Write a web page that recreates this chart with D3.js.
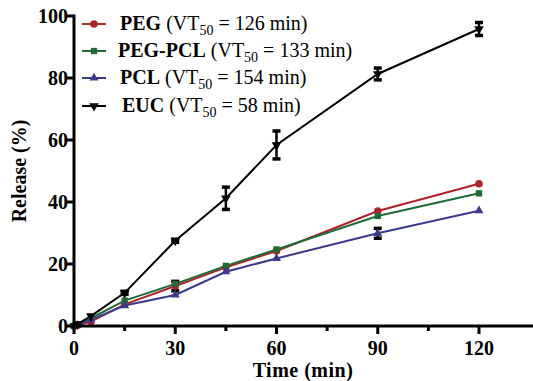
<!DOCTYPE html>
<html><head><meta charset="utf-8">
<script src="https://cdn.jsdelivr.net/npm/d3@7"></script>
<style>body{margin:0;background:#fff}svg{display:block}text{font-family:"Liberation Serif","Times New Roman",serif}</style>
</head><body><svg id="c" width="533" height="381"></svg>
<script>
const times = [0, 1, 5, 15, 30, 45, 60, 90, 120];
const peg    = [0, 0.2, 1.4, 7.0, 12.9, 18.9, 24.2, 37.1, 45.9];
const pegpcl = [0, 0.5, 2.5, 8.2, 13.6, 19.4, 24.7, 35.5, 42.8];
const pcl    = [0, 0.3, 2.0, 6.6, 10.0, 17.5, 21.8, 29.9, 37.2];
const euc    = [0, 0.6, 3.2, 10.7, 27.5, 41.2, 58.4, 81.3, 95.8];
const pegErr    = [0, 0, 0, 0, 1.5, 0, 0, 0, 0];
const pegpclErr = [0, 0, 0, 0, 0, 0, 0, 0, 0];
const pclErr    = [0, 0, 0, 0, 0, 0, 0, 1.6, 0];
const eucErr    = [0, 0, 0, 0.5, 0.5, 3.6, 4.5, 1.9, 2.1];
const seriesNames = ["PEG", "PEG-PCL", "PCL", "EUC"];
const vt50 = ["126", "133", "154", "58"];
const xTicks = [0, 30, 60, 90, 120];
const xMinor = [15, 45, 75, 105];
const yTicks = [0, 20, 40, 60, 80, 100];

const colors = ["#b0222a", "#1f6b35", "#3b3a8c", "#000000"];
const shapes = [d3.symbolCircle, d3.symbolSquare, d3.symbolTriangle, d3.symbolTriangle];
const rot = [0, 0, 0, 180];
const sizes = [45, 40, 35, 40];

const svg = d3.select("#c");
const x = d3.scaleLinear().domain([0, 120]).range([74, 479]);
const y = d3.scaleLinear().domain([0, 100]).range([326, 16]);

const data = [peg, pegpcl, pcl, euc];
const errs = [pegErr, pegpclErr, pclErr, eucErr];

const line = d3.line().x((d,i)=>x(times[i])).y(d=>y(d));
data.forEach((s, k) => {
  svg.append("path").datum(s).attr("d", line).attr("fill", "none")
    .attr("stroke", colors[k]).attr("stroke-width", 2);
});
errs.forEach((e, k) => {
  e.forEach((v, i) => {
    if (!v) return;
    const cx = x(times[i]), y1 = y(data[k][i] + v), y2 = y(data[k][i] - v);
    const g = svg.append("g").attr("stroke", "#000");
    g.append("line").attr("x1", cx).attr("x2", cx).attr("y1", y1).attr("y2", y2).attr("stroke-width", 2.5);
    g.append("line").attr("x1", cx-4).attr("x2", cx+4).attr("y1", y1).attr("y2", y1).attr("stroke-width", 3.5);
    g.append("line").attr("x1", cx-4).attr("x2", cx+4).attr("y1", y2).attr("y2", y2).attr("stroke-width", 3.5);
  });
});
data.forEach((s, k) => {
  svg.selectAll(null).data(s).enter().append("path")
    .attr("d", d3.symbol().type(shapes[k]).size(sizes[k]))
    .attr("transform", (d,i)=>`translate(${x(times[i])},${y(d)}) rotate(${rot[k]})`)
    .attr("fill", colors[k]);
});

const ax = svg.append("g");
ax.append("line").attr("x1", 74).attr("x2", 533).attr("y1", 326).attr("y2", 326).attr("stroke", "#000").attr("stroke-width", 3);
ax.append("line").attr("x1", 74).attr("x2", 74).attr("y1", 14.5).attr("y2", 327.5).attr("stroke", "#000").attr("stroke-width", 3);
xTicks.forEach(t => {
  ax.append("line").attr("x1", x(t)).attr("x2", x(t)).attr("y1", 326).attr("y2", 334).attr("stroke", "#000").attr("stroke-width", 3);
  ax.append("text").attr("x", x(t)).attr("y", 355).attr("text-anchor", "middle")
    .attr("font-size", 20).attr("font-weight", "bold").text(t);
});
xMinor.forEach(t => {
  ax.append("line").attr("x1", x(t)).attr("x2", x(t)).attr("y1", 326).attr("y2", 331).attr("stroke", "#000").attr("stroke-width", 3);
});
yTicks.forEach(t => {
  ax.append("line").attr("x1", 67).attr("x2", 74).attr("y1", y(t)).attr("y2", y(t)).attr("stroke", "#000").attr("stroke-width", 3);
  ax.append("text").attr("x", 68).attr("y", y(t)).attr("dy", "0.35em").attr("text-anchor", "end")
    .attr("font-size", 20).attr("font-weight", "bold").text(t);
});
svg.append("text").attr("x", 303).attr("y", 377).attr("text-anchor", "middle")
  .attr("font-size", 20).attr("font-weight", "bold").attr("letter-spacing", 0.5).text("Time (min)");
svg.append("text").attr("transform", "translate(26,171) rotate(-90)").attr("text-anchor", "middle")
  .attr("font-size", 20).attr("font-weight", "bold").text("Release (%)");

const rowsY = [24, 51, 78, 106];
const textX = [120, 118, 120, 122];
seriesNames.forEach((n, k) => {
  const g = svg.append("g");
  g.append("line").attr("x1", 82).attr("x2", 106).attr("y1", rowsY[k]).attr("y2", rowsY[k]).attr("stroke", colors[k]).attr("stroke-width", 2);
  g.append("path").attr("d", d3.symbol().type(shapes[k]).size(sizes[k]))
    .attr("transform", `translate(94,${rowsY[k]}) rotate(${rot[k]})`).attr("fill", colors[k]);
  const t = g.append("text").attr("x", textX[k]).attr("y", rowsY[k] + 6).attr("font-size", 20);
  t.append("tspan").attr("font-weight", "bold").text(n);
  t.append("tspan").text(" (VT");
  t.append("tspan").attr("font-size", 14).attr("dy", 5).text("50");
  t.append("tspan").attr("dy", -5).text(" = " + vt50[k] + " min)");
});
</script></body></html>
